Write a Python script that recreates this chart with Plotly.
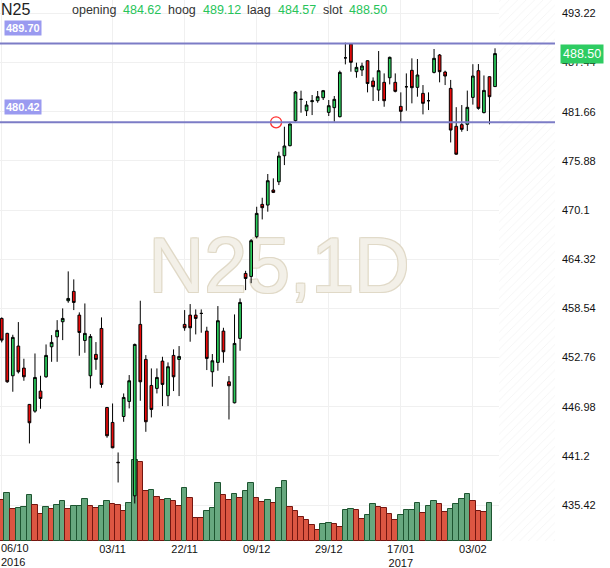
import plotly.graph_objects as go
import pandas as pd

# ---------------- data ----------------
closed_days = ["2016-12-26"]
dates = [d.strftime("%Y-%m-%d") for d in pd.bdate_range("2016-10-06", "2017-02-09")
         if d.strftime("%Y-%m-%d") not in closed_days]

opens = [457.36, 455.60, 450.62, 454.11, 451.52, 447.25, 446.46, 448.81, 450.50, 454.03,
         455.20, 456.97, 459.44, 460.54, 457.75, 454.77, 450.62, 453.13, 456.18, 446.89,
         445.13, 440.45, 445.83, 447.60, 436.50, 456.66, 452.54, 449.48, 449.13, 452.34,
         448.27, 453.01, 452.54, 456.66, 457.75, 457.75, 457.95, 455.87, 451.09, 452.19,
         455.87, 449.91, 447.44, 455.01, 462.65, 462.30, 466.97, 470.77, 470.69, 472.46,
         473.43, 476.49, 477.67, 480.61, 483.12, 481.78, 482.85, 482.96, 483.31, 481.59,
         482.14, 481.08, 488.00, 489.62, 486.37, 486.57, 487.66, 485.27, 484.21, 485.12,
         485.66, 485.12, 482.29, 484.60, 486.53, 484.53, 483.82, 482.96, 486.29, 488.33,
         486.33, 484.41, 479.95, 480.14, 480.18, 483.35, 486.49, 481.56, 485.78, 484.62]
highs = [457.48, 455.67, 455.44, 456.93, 452.62, 447.30, 453.24, 450.62, 454.30, 455.40,
         457.16, 458.54, 462.89, 461.95, 458.07, 459.12, 455.52, 454.58, 457.48, 446.95,
         447.36, 441.60, 448.54, 450.70, 454.40, 459.44, 453.05, 451.48, 451.48, 452.85,
         452.19, 453.72, 454.11, 458.34, 459.05, 458.42, 458.42, 456.38, 453.17, 458.81,
         456.26, 450.58, 457.83, 459.71, 462.96, 466.70, 470.49, 471.55, 474.34, 473.83,
         476.96, 479.90, 480.30, 484.10, 484.14, 482.92, 483.63, 484.10, 484.22, 483.04,
         483.51, 486.49, 489.78, 489.70, 487.43, 487.43, 487.70, 485.70, 488.80, 486.17,
         488.14, 486.17, 483.94, 486.17, 487.94, 487.86, 484.80, 483.94, 489.04, 488.45,
         486.49, 485.40, 482.20, 482.45, 484.15, 487.25, 487.27, 485.93, 485.80, 489.12]
lows = [454.54, 449.79, 448.74, 450.89, 450.03, 442.66, 446.27, 446.74, 450.38, 452.26,
        452.26, 454.81, 459.20, 458.34, 452.97, 453.32, 449.13, 451.32, 449.21, 443.33,
        442.10, 438.07, 445.21, 446.78, 435.60, 447.68, 444.03, 445.72, 448.54, 447.05,
        447.05, 448.82, 448.23, 455.91, 454.62, 455.48, 455.68, 451.29, 449.33, 451.21,
        452.15, 445.48, 447.37, 453.56, 460.69, 461.50, 466.77, 469.00, 469.91, 472.10,
        473.04, 475.39, 477.60, 480.49, 481.55, 481.16, 481.27, 482.72, 483.04, 481.16,
        480.49, 481.00, 487.23, 486.37, 485.66, 485.86, 483.94, 482.92, 482.92, 482.25,
        484.88, 483.94, 480.45, 481.78, 482.65, 483.43, 481.35, 481.86, 486.17, 485.12,
        484.80, 478.05, 476.60, 479.31, 479.39, 482.50, 481.90, 481.47, 480.18, 484.57]
closes = [454.81, 449.91, 455.13, 451.09, 450.50, 445.09, 450.42, 447.95, 453.01, 454.54,
          455.95, 457.36, 459.71, 459.24, 455.71, 455.60, 455.24, 452.54, 449.60, 443.56,
          442.15, 440.40, 448.07, 450.03, 454.30, 449.91, 445.21, 446.66, 450.42, 449.60,
          451.68, 450.50, 452.89, 456.26, 456.26, 457.36, 457.95, 452.66, 452.38, 457.09,
          453.44, 449.44, 454.42, 459.24, 462.06, 466.50, 469.71, 470.38, 473.55, 472.18,
          476.45, 477.63, 480.22, 483.98, 483.12, 482.45, 482.95, 483.43, 484.14, 482.37,
          483.12, 486.29, 488.00, 487.47, 486.88, 487.04, 484.98, 484.61, 486.49, 482.96,
          488.06, 484.06, 481.71, 484.60, 484.49, 485.98, 482.65, 482.96, 487.94, 486.37,
          485.86, 479.51, 476.67, 479.59, 482.18, 485.86, 482.06, 484.17, 483.43, 488.50]

# volume (relative units), last session has no volume bar yet
volumes = [41, 48, 32, 33, 34, 46, 36, 27, 34, 32,
           36, 40, 32, 35, 35, 42, 35, 33, 35, 40,
           37, 36, 30, 38, 81, 79, 50, 51, 44, 41,
           42, 40, 35, 53, 43, 23, 23, 30, 33, 58,
           46, 41, 47, 43, 50, 58, 43, 39, 41, 38,
           53, 60, 34, 30, 24, 21, 16, 11, 17, 18,
           17, 14, 31, 32, 31, 22, 26, 37, 34, 33,
           27, 21, 26, 31, 31, 38, 28, 35, 40, 37,
           29, 32, 37, 42, 47, 40, 30, 29, 38]
volume_dir = ("duduuuddud" "uuduuudduu" "ddduuddudd" "udduddduuu" "dduduuddud"
              "uudddddduu" "dduudduudd" "dduuuuduud" "duuuudddu")

levels = [489.70, 480.42]
alert_pos = 49.5
alert_price = 480.42
header = [("opening", 484.62), ("hoog", 489.12), ("laag", 484.57), ("slot", 488.50)]
last_price = 488.50

tick_dates = ["2016-10-06", "2016-11-03", "2016-11-22", "2016-12-09",
              "2016-12-29", "2017-01-17", "2017-02-03"]
tick_text = ["06/10<br>2016", "03/11", "22/11", "09/12", "29/12", "17/01<br>2017", "03/02"]
price_ticks = [435.42, 441.2, 446.98, 452.76, 458.54, 464.32, 470.1, 475.88, 481.66, 487.44, 493.22]

# ---------------- layout constants ----------------
W, H = 610, 568
ML, MR, MT, MB = 0, 55, 0, 27
plot_h = H - MT - MB
x_range = [-0.31, 99.82]
y_range = [431.19, 494.80]
vol_top = plot_h

FONT = "Arial, Liberation Sans, sans-serif"
GREEN_C = "#2acb5b"
RED_C = "#ea0a0a"
VOL_UP, VOL_UP_L = "#67a87f", "#1d5530"
VOL_DN, VOL_DN_L = "#dc5642", "#741610"
LEVEL_C = "#7c7cc6"

idx = list(range(len(dates)))
pos = {d: i for i, d in enumerate(dates)}
tick_idx = [pos[d] for d in tick_dates]

fig = go.Figure()

# future (hatched) zone
n = len(dates)
fig.add_trace(go.Bar(
    x=[(n + x_range[1]) / 2], y=[vol_top], width=[x_range[1] - n + 0.5], base=0,
    marker=dict(color="white", line=dict(width=0),
                pattern=dict(shape="/", fgcolor="#ebebeb", bgcolor="white", size=6, solidity=0.15)),
    hoverinfo="skip", showlegend=False, xaxis="x", yaxis="y"))

# watermark
fig.add_trace(go.Scatter(
    x=[sum(x_range) / 2 + 0.3], y=[vol_top / 2 - 2], mode="text", text=["N25,1D"],
    textfont=dict(size=77, color="#f3f0e8", family=FONT,
                  shadow="1px 1px 0 #e0d9c7, -1px -1px 0 #e0d9c7, 1px -1px 0 #e0d9c7, -1px 1px 0 #e0d9c7"),
    hoverinfo="skip", showlegend=False, xaxis="x", yaxis="y"))

# volume
fig.add_trace(go.Bar(
    x=idx[:len(volumes)], y=volumes, width=1.0,
    marker=dict(color=[VOL_UP if c == "u" else VOL_DN for c in volume_dir],
                line=dict(color=[VOL_UP_L if c == "u" else VOL_DN_L for c in volume_dir], width=1)),
    hovertext=dates[:len(volumes)], hoverinfo="text+y", showlegend=False, xaxis="x", yaxis="y"))

# candles
fig.add_trace(go.Candlestick(
    x=idx, open=opens, high=highs, low=lows, close=closes, text=dates,
    increasing=dict(fillcolor=GREEN_C, line=dict(color="black", width=1)),
    decreasing=dict(fillcolor=RED_C, line=dict(color="black", width=1)),
    whiskerwidth=0, showlegend=False, xaxis="x", yaxis="y2"))

# alert marker
fig.add_trace(go.Scatter(
    x=[alert_pos], y=[alert_price], mode="markers",
    marker=dict(symbol="circle-open", size=11, color="#ff3030", line=dict(width=1.3)),
    hoverinfo="skip", showlegend=False, xaxis="x", yaxis="y2"))

shapes = [dict(type="line", xref="paper", x0=0, x1=1, yref="y2", y0=lv, y1=lv,
               line=dict(color=LEVEL_C, width=2), layer="above") for lv in levels]

ann = []
ann.append(dict(text="N25", xref="paper", yref="paper", x=0, y=1, xanchor="left", yanchor="top",
                showarrow=False, font=dict(size=16, color="#222", family=FONT), xshift=-1, yshift=1))
label_x = [71, 167, 246, 322]
value_x = [122, 202, 277, 348]
for (lab, val), lx, vx in zip(header, label_x, value_x):
    ann.append(dict(text=lab, xref="paper", yref="paper", x=0, y=1, xanchor="left", yanchor="top",
                    xshift=lx - 1, yshift=-1, showarrow=False, font=dict(size=12.5, color="#333", family=FONT)))
    ann.append(dict(text=f"{val:.2f}", xref="paper", yref="paper", x=0, y=1, xanchor="left", yanchor="top",
                    xshift=vx - 1, yshift=-1, showarrow=False, font=dict(size=12.5, color="#27c45a", family=FONT)))
for lv in levels:
    ann.append(dict(text=f"<b>{lv:.2f}</b>", xref="paper", yref="y2", x=0, y=lv, xanchor="left",
                    yanchor="middle", xshift=4, yshift=15, showarrow=False, bgcolor="#9a9af0",
                    borderpad=1, font=dict(size=11, color="white", family=FONT)))
ann.append(dict(text=f"{last_price:.2f}", xref="paper", yref="y2", x=1, y=last_price, xanchor="left",
                yanchor="middle", xshift=5, showarrow=False, bgcolor="#2ecc62", borderpad=2,
                font=dict(size=12.5, color="white", family=FONT)))
ann.append(dict(text=tick_text[0], xref="paper", yref="paper", x=0, y=0, xanchor="left", yanchor="top",
                xshift=-1, yshift=1, showarrow=False, align="left",
                font=dict(size=11, color="#111", family=FONT)))

fig.update_layout(
    width=W, height=H, margin=dict(l=ML, r=MR, t=MT, b=MB),
    paper_bgcolor="white", plot_bgcolor="white", showlegend=False,
    font=dict(family=FONT, size=11, color="#111"),
    xaxis=dict(range=x_range, tickmode="array", tickvals=tick_idx, ticktext=[""] + tick_text[1:],
               showgrid=True, gridcolor="#f0f0f0", gridwidth=1, zeroline=False, ticks="",
               showline=False, rangeslider=dict(visible=False), tickfont=dict(size=11, color="#111")),
    yaxis=dict(range=[0, vol_top], visible=False, showgrid=False, fixedrange=True),
    yaxis2=dict(range=y_range, overlaying="y", side="right", tickmode="array", tickvals=price_ticks,
                ticktext=[f"{v:g}" for v in price_ticks], showgrid=True, gridcolor="#f0f0f0",
                zeroline=False, ticks="", showline=False, tickfont=dict(size=11, color="#111"),
                ticklabelstandoff=6),
    shapes=shapes, annotations=ann, bargap=0,
)

fig.write_html("out.html", config={"displayModeBar": False},
               post_script="document.body.style.margin='0';document.body.style.overflow='hidden';")
